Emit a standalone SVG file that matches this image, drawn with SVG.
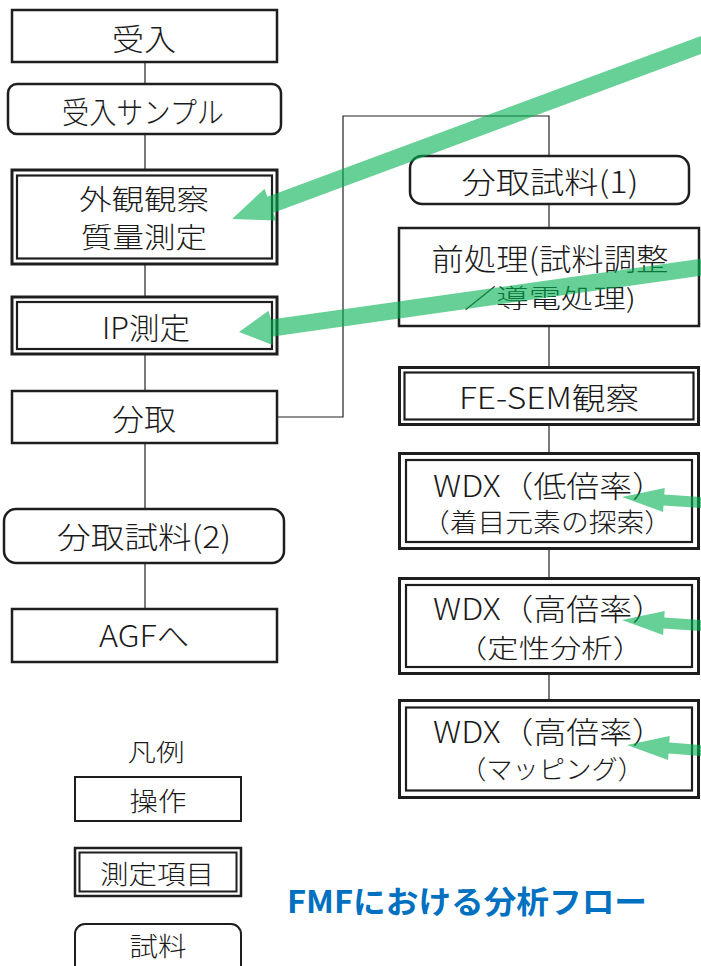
<svg xmlns="http://www.w3.org/2000/svg" width="701" height="966" viewBox="0 0 701 966">
<style>
.box{fill:#fff;stroke:#1e1e1e;stroke-width:2.5}
.outer{fill:#fff;stroke:#1e1e1e;stroke-width:3}
.inner{fill:none;stroke:#1e1e1e;stroke-width:2.2}
.lg{fill:#fff;stroke:#1e1e1e;stroke-width:2}
.t{font-family:"Noto Sans CJK JP","Noto Sans",sans-serif;font-size:30px;font-weight:300;fill:#1a1a1a;text-anchor:middle}
.m{font-size:28px}
.s{font-size:26px}
.l{font-size:26px}
.conn{fill:none;stroke:#222;stroke-width:1.2}
.arrow{fill:#00B050;fill-opacity:0.6}
.title{font-family:"Noto Sans CJK JP","Noto Sans",sans-serif;font-size:31px;font-weight:700;fill:#0070C0}
</style>
<g id="connectors">
<line class="conn" x1="145" y1="62" x2="145" y2="84"/>
<line class="conn" x1="145" y1="134" x2="145" y2="170"/>
<line class="conn" x1="145" y1="264" x2="145" y2="297"/>
<line class="conn" x1="145" y1="354" x2="145" y2="391"/>
<line class="conn" x1="145" y1="443" x2="145" y2="509"/>
<line class="conn" x1="145" y1="563" x2="145" y2="609"/>
<polyline class="conn" points="277,417 343,417 343,116 549,116 549,156"/>
<line class="conn" x1="549" y1="204" x2="549" y2="228"/>
<line class="conn" x1="549" y1="326" x2="549" y2="367"/>
<line class="conn" x1="549" y1="425" x2="549" y2="453"/>
<line class="conn" x1="549" y1="549" x2="549" y2="578"/>
<line class="conn" x1="549" y1="674" x2="549" y2="700"/>
</g>
<g id="n-ukeire"><rect class="box" x="12" y="10" width="265" height="52"/><text class="t" x="144" y="50" textLength="64" lengthAdjust="spacingAndGlyphs">受入</text></g>
<g id="n-sample"><rect class="box" x="8" y="84" width="273" height="50" rx="9"/><text class="t" x="143" y="123" textLength="162" lengthAdjust="spacingAndGlyphs">受入サンプル</text></g>
<g id="n-gaikan"><rect class="outer" x="12" y="170" width="265" height="94"/><rect class="inner" x="17" y="175.5" width="255" height="83"/><text class="t m" x="144" y="210" textLength="130" lengthAdjust="spacingAndGlyphs">外観観察</text><text class="t m" x="144" y="248" textLength="126" lengthAdjust="spacingAndGlyphs">質量測定</text></g>
<g id="n-ip"><rect class="outer" x="12" y="297" width="265" height="57"/><rect class="inner" x="17" y="302" width="255" height="47"/><text class="t" x="146" y="339" textLength="88" lengthAdjust="spacingAndGlyphs">IP測定</text></g>
<g id="n-bunshu"><rect class="box" x="12" y="391" width="265" height="52"/><text class="t" x="144" y="430" textLength="64" lengthAdjust="spacingAndGlyphs">分取</text></g>
<g id="n-sample2"><rect class="box" x="4" y="509" width="280" height="54" rx="12"/><text class="t" x="144" y="548" textLength="174" lengthAdjust="spacingAndGlyphs">分取試料(2)</text></g>
<g id="n-agf"><rect class="box" x="12" y="609" width="265" height="53"/><text class="t" x="144" y="647" textLength="90" lengthAdjust="spacingAndGlyphs">AGFへ</text></g>
<g id="n-sample1"><rect class="box" x="410" y="156" width="279" height="48" rx="12"/><text class="t" x="550" y="193" textLength="177" lengthAdjust="spacingAndGlyphs">分取試料(1)</text></g>
<g id="n-pre"><rect class="box" x="399" y="228" width="300" height="98"/><text class="t" x="550" y="270" textLength="237" lengthAdjust="spacingAndGlyphs">前処理(試料調整</text><text class="t s" x="550" y="307.5" textLength="172" lengthAdjust="spacingAndGlyphs">／導電処理)</text></g>
<g id="n-fesem"><rect class="outer" x="399.5" y="367.5" width="299" height="57"/><rect class="inner" x="404.5" y="372.5" width="289" height="47"/><text class="t" x="549" y="409" textLength="180" lengthAdjust="spacingAndGlyphs">FE-SEM観察</text></g>
<g id="n-wdx1"><rect class="outer" x="399.5" y="453.5" width="299" height="95"/><rect class="inner" x="406" y="460" width="286" height="82"/><text class="t" x="549" y="497" textLength="232" lengthAdjust="spacingAndGlyphs">WDX（低倍率）</text><text class="t s" x="547" y="532" textLength="250" lengthAdjust="spacingAndGlyphs">（着目元素の探索）</text></g>
<g id="n-wdx2"><rect class="outer" x="399.5" y="578.5" width="299" height="95"/><rect class="inner" x="406" y="585" width="286" height="82"/><text class="t" x="549" y="620" textLength="232" lengthAdjust="spacingAndGlyphs">WDX（高倍率）</text><text class="t s" x="550" y="657.5" textLength="188" lengthAdjust="spacingAndGlyphs">（定性分析）</text></g>
<g id="n-wdx3"><rect class="outer" x="399.5" y="700.5" width="299" height="97"/><rect class="inner" x="406" y="707.5" width="286" height="83"/><text class="t" x="549" y="743" textLength="232" lengthAdjust="spacingAndGlyphs">WDX（高倍率）</text><text class="t s" x="552" y="779" textLength="184" lengthAdjust="spacingAndGlyphs">（マッピング）</text></g>
<g id="legend">
<text class="t" style="font-size:24px" x="156" y="761" textLength="57" lengthAdjust="spacingAndGlyphs">凡例</text>
<g id="lg-op"><rect class="lg" x="75" y="777" width="166" height="44"/><text class="t l" x="158" y="811" textLength="57" lengthAdjust="spacingAndGlyphs">操作</text></g>
<g id="lg-meas"><rect class="lg" x="75" y="848" width="166" height="48" style="stroke-width:2.5"/><rect class="inner" x="79.5" y="852.5" width="157" height="39" style="stroke-width:2"/><text class="t l" x="157" y="884" textLength="114" lengthAdjust="spacingAndGlyphs">測定項目</text></g>
<g id="lg-sample"><rect class="lg" x="75" y="924" width="166" height="52" rx="10"/><text class="t l" x="158" y="956" textLength="57" lengthAdjust="spacingAndGlyphs">試料</text></g>
</g>
<text class="title" x="287" y="913" textLength="360" lengthAdjust="spacingAndGlyphs">FMFにおける分析フロー</text>
<g id="arrows">
<polygon class="arrow" points="232,219 264.5,188.8 267.4,196.7 720,29 720,47 273.4,212.7 276.3,220.6"/>
<polygon class="arrow" points="239,332 268.5,310.8 271,319.5 720,256 720,273 273,336.5 272.5,345"/>
<polygon class="arrow" points="622,497 664.7,487.9 664.3,494.4 710,497.6 710,508.6 663.5,505.4 663.1,511.9"/>
<polygon class="arrow" points="622,620 664.7,610.9 664.3,617.4 710,620.6 710,631.6 663.5,628.4 663.1,634.9"/>
<polygon class="arrow" points="627,745 669.7,735.9 669.3,742.4 710,745.6 710,756.6 668.5,753.4 668.1,759.9"/>
</g>
</svg>
